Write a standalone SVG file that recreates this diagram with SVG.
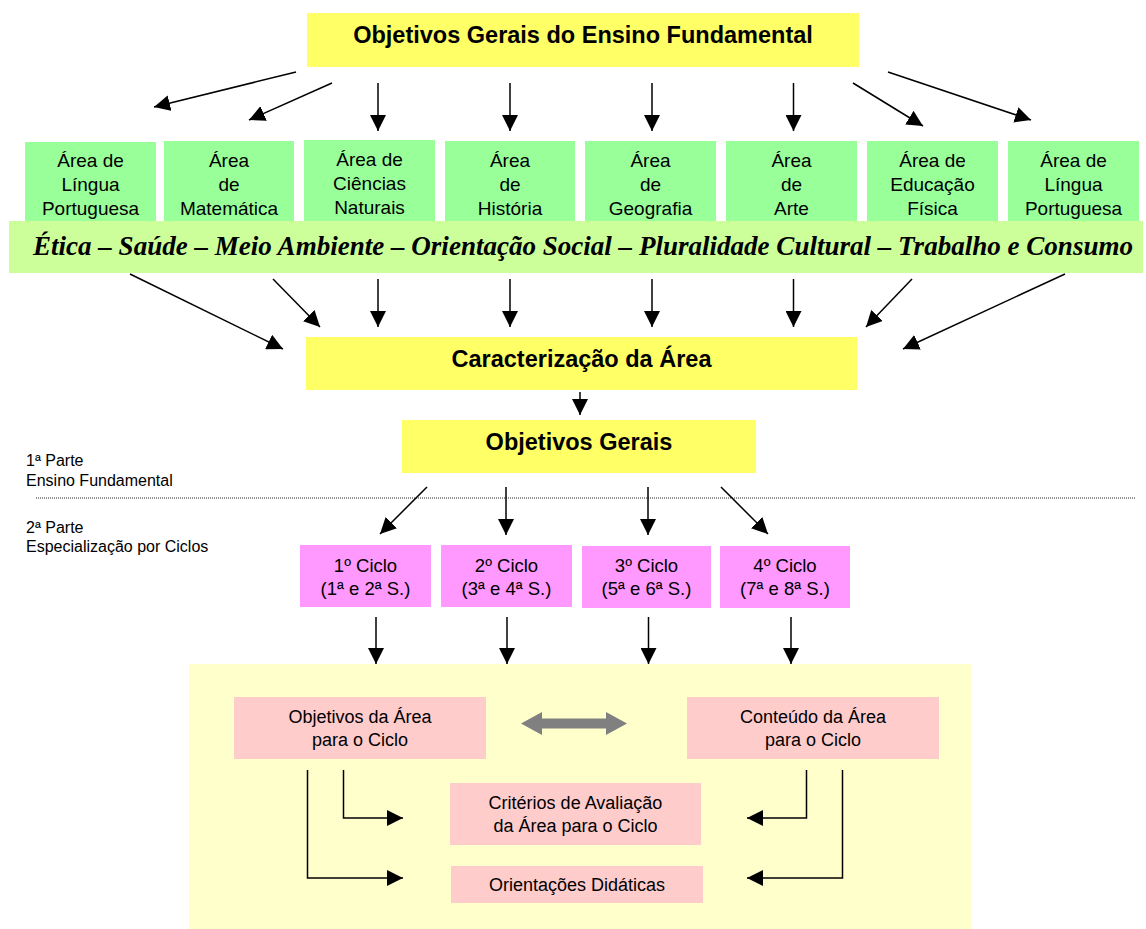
<svg xmlns="http://www.w3.org/2000/svg" width="1146" height="929" viewBox="0 0 1146 929">
<defs>
<style>
.t{font-family:"Liberation Sans",Arial,sans-serif;fill:#000;text-anchor:middle}
.b{font-weight:bold;font-size:23.5px}
.g{font-size:19px}
.c{font-size:18.5px}
.p{font-size:18px}
.l{font-family:"Liberation Sans",Arial,sans-serif;font-size:16px;fill:#000}
.yel{fill:#FFFF66}
.grn{fill:#99FF99}
.mag{fill:#FF99FF}
.pnk{fill:#FFCCCC}
.ln{stroke:#000;stroke-width:1.5;fill:none;marker-end:url(#ah)}
</style>
<marker id="ah" markerUnits="userSpaceOnUse" markerWidth="16" markerHeight="16" refX="16" refY="8" orient="auto">
<path d="M0,0 L16,8 L0,16 z" fill="#000"/>
</marker>
</defs>
<rect width="1146" height="929" fill="#FFFFFF"/>

<g id="area-bg">
<rect x="189" y="664" width="782" height="265" fill="#FFFFCC"/>
</g>

<g id="n-objetivos-ef">
<rect class="yel" x="307" y="13" width="552" height="54"/>
<text class="t b" x="583" y="43">Objetivos Gerais do Ensino Fundamental</text>
</g>

<g id="n-lp1"><rect class="grn" x="25" y="142" width="131" height="84"/>
<text class="t g" x="90.5" y="167">Área de</text><text class="t g" x="90.5" y="191">Língua</text><text class="t g" x="90.5" y="215">Portuguesa</text></g>
<g id="n-mat"><rect class="grn" x="164" y="141" width="130" height="85"/>
<text class="t g" x="229" y="167">Área</text><text class="t g" x="229" y="191">de</text><text class="t g" x="229" y="215">Matemática</text></g>
<g id="n-cien"><rect class="grn" x="304" y="140" width="131" height="86"/>
<text class="t g" x="369.5" y="166">Área de</text><text class="t g" x="369.5" y="190">Ciências</text><text class="t g" x="369.5" y="214">Naturais</text></g>
<g id="n-hist"><rect class="grn" x="445" y="141" width="130" height="85"/>
<text class="t g" x="510" y="167">Área</text><text class="t g" x="510" y="191">de</text><text class="t g" x="510" y="215">História</text></g>
<g id="n-geo"><rect class="grn" x="585" y="141" width="131" height="85"/>
<text class="t g" x="650.5" y="167">Área</text><text class="t g" x="650.5" y="191">de</text><text class="t g" x="650.5" y="215">Geografia</text></g>
<g id="n-arte"><rect class="grn" x="726" y="141" width="131" height="85"/>
<text class="t g" x="791.5" y="167">Área</text><text class="t g" x="791.5" y="191">de</text><text class="t g" x="791.5" y="215">Arte</text></g>
<g id="n-edf"><rect class="grn" x="867" y="141" width="131" height="85"/>
<text class="t g" x="932.5" y="167">Área de</text><text class="t g" x="932.5" y="191">Educação</text><text class="t g" x="932.5" y="215">Física</text></g>
<g id="n-lp2"><rect class="grn" x="1008" y="141" width="131" height="85"/>
<text class="t g" x="1073.5" y="167">Área de</text><text class="t g" x="1073.5" y="191">Língua</text><text class="t g" x="1073.5" y="215">Portuguesa</text></g>

<g id="n-transversais">
<rect x="9" y="221" width="1134" height="52" fill="#CCFF99"/>
<text x="33" y="255" font-family="'Liberation Serif','Times New Roman',serif" font-style="italic" font-weight="bold" font-size="27" textLength="1100" lengthAdjust="spacingAndGlyphs" fill="#000">Ética – Saúde – Meio Ambiente – Orientação Social – Pluralidade Cultural – Trabalho e Consumo</text>
</g>

<g id="n-caracterizacao">
<rect class="yel" x="306" y="337" width="551" height="53"/>
<text class="t b" x="581.5" y="367">Caracterização da Área</text>
</g>

<g id="n-objetivos-gerais">
<rect class="yel" x="402" y="420" width="354" height="53"/>
<text class="t b" x="579" y="450">Objetivos Gerais</text>
</g>

<g id="labels">
<text class="l" x="26" y="466">1ª Parte</text>
<text class="l" x="26" y="486">Ensino Fundamental</text>
<text class="l" x="26" y="533">2ª Parte</text>
<text class="l" x="26" y="552">Especialização por Ciclos</text>
<line x1="36" y1="498" x2="1135" y2="498" stroke="#222" stroke-width="1" stroke-dasharray="1 1"/>
</g>

<g id="n-ciclo1"><rect class="mag" x="300" y="545" width="131" height="62"/>
<text class="t c" x="365.5" y="572">1º Ciclo</text><text class="t c" x="365.5" y="595">(1ª e 2ª S.)</text></g>
<g id="n-ciclo2"><rect class="mag" x="441" y="545" width="131" height="62"/>
<text class="t c" x="506.5" y="572">2º Ciclo</text><text class="t c" x="506.5" y="595">(3ª e 4ª S.)</text></g>
<g id="n-ciclo3"><rect class="mag" x="582" y="546" width="129" height="62"/>
<text class="t c" x="646.5" y="572">3º Ciclo</text><text class="t c" x="646.5" y="595">(5ª e 6ª S.)</text></g>
<g id="n-ciclo4"><rect class="mag" x="720" y="546" width="130" height="62"/>
<text class="t c" x="785" y="572">4º Ciclo</text><text class="t c" x="785" y="595">(7ª e 8ª S.)</text></g>

<g id="n-obj-area"><rect class="pnk" x="234" y="697" width="252" height="62"/>
<text class="t p" x="360" y="723">Objetivos da Área</text><text class="t p" x="360" y="746">para o Ciclo</text></g>
<g id="n-cont-area"><rect class="pnk" x="687" y="697" width="252" height="62"/>
<text class="t p" x="813" y="723">Conteúdo da Área</text><text class="t p" x="813" y="746">para o Ciclo</text></g>
<g id="n-criterios"><rect class="pnk" x="450" y="783" width="251" height="62"/>
<text class="t p" x="575.5" y="809">Critérios de Avaliação</text><text class="t p" x="575.5" y="832">da Área para o Ciclo</text></g>
<g id="n-orientacoes"><rect class="pnk" x="451" y="866" width="252" height="37"/>
<text class="t p" x="577" y="891">Orientações Didáticas</text></g>

<g id="connectors">
<line class="ln" x1="296" y1="72" x2="154" y2="107"/>
<line class="ln" x1="332" y1="83" x2="249" y2="120"/>
<line class="ln" x1="378" y1="83" x2="378" y2="131"/>
<line class="ln" x1="510" y1="83" x2="510" y2="131"/>
<line class="ln" x1="652" y1="83" x2="652" y2="131"/>
<line class="ln" x1="793.5" y1="83" x2="793.5" y2="131"/>
<line class="ln" x1="853" y1="83" x2="923" y2="126"/>
<line class="ln" x1="888" y1="72" x2="1031" y2="120"/>

<line class="ln" x1="130" y1="274" x2="283" y2="349"/>
<line class="ln" x1="273" y1="279" x2="320" y2="327"/>
<line class="ln" x1="378" y1="279" x2="378" y2="327"/>
<line class="ln" x1="510" y1="279" x2="510" y2="327"/>
<line class="ln" x1="652" y1="279" x2="652" y2="327"/>
<line class="ln" x1="793.5" y1="279" x2="793.5" y2="327"/>
<line class="ln" x1="912" y1="279" x2="866" y2="327"/>
<line class="ln" x1="1065" y1="274" x2="903" y2="349"/>

<line class="ln" x1="580" y1="392" x2="580" y2="415"/>

<line class="ln" x1="427" y1="487" x2="380" y2="534"/>
<line class="ln" x1="506" y1="487" x2="506" y2="535"/>
<line class="ln" x1="648" y1="487" x2="648" y2="535"/>
<line class="ln" x1="721" y1="487" x2="768" y2="534"/>

<line class="ln" x1="376" y1="617" x2="376" y2="664"/>
<line class="ln" x1="507" y1="617" x2="507" y2="664"/>
<line class="ln" x1="648.5" y1="617" x2="648.5" y2="664"/>
<line class="ln" x1="791" y1="617" x2="791" y2="664"/>

<polygon points="521,723.5 542,712 542,718.5 606,718.5 606,712 627,723.5 606,735 606,728.5 542,728.5 542,735" fill="#808080"/>

<path class="ln" d="M343.5,770 V818 H403"/>
<path class="ln" d="M307.5,770 V878 H403"/>
<path class="ln" d="M806.5,770 V818 H747"/>
<path class="ln" d="M842.5,770 V878 H747"/>
</g>
</svg>
